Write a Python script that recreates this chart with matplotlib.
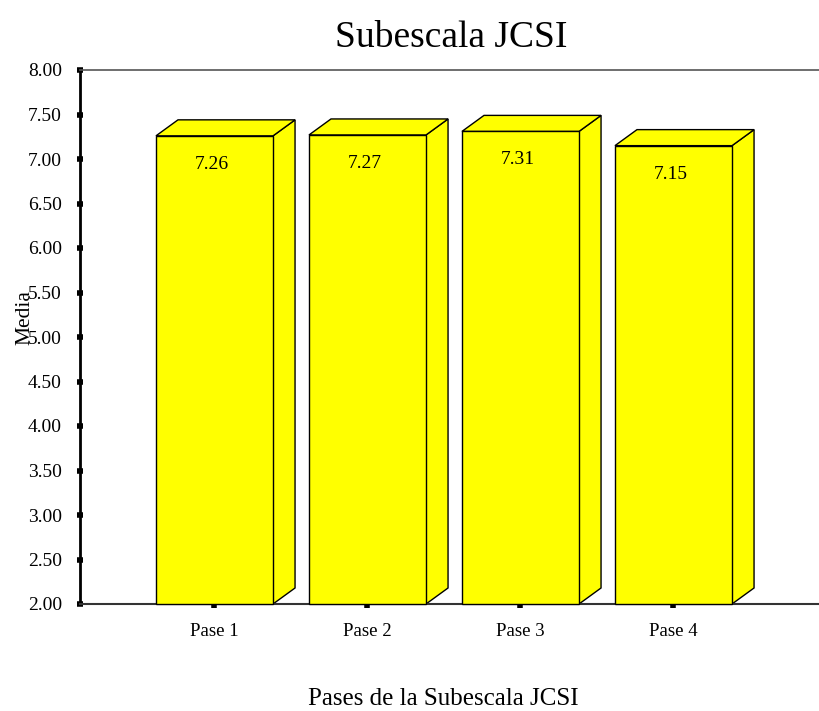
import matplotlib
matplotlib.use("Agg")
import matplotlib.pyplot as plt
from matplotlib.patches import Polygon, Rectangle

plt.rcParams['font.family'] = ['Liberation Serif', 'DejaVu Serif']

categories = ["Pase 1", "Pase 2", "Pase 3", "Pase 4"]
means = [7.26, 7.27, 7.31, 7.15]
value_labels = ["7.26", "7.27", "7.31", "7.15"]
y_ticks = [2.0, 2.5, 3.0, 3.5, 4.0, 4.5, 5.0, 5.5, 6.0, 6.5, 7.0, 7.5, 8.0]

fig = plt.figure(figsize=(8.19, 7.11), dpi=100)
ax = fig.add_axes([80 / 819, 107 / 711, 739 / 819, 534 / 711])

ymin, ymax = 2.0, 8.0
ax.set_xlim(0.121, 4.951)
ax.set_ylim(ymin, ymax)

width = 0.765
dx = 0.144   # depth offset (x, data units)
dy = 0.18    # depth offset (y, data units)
face = "#FFFF00"

for i, v in enumerate(means):
    xc = i + 1
    x0, x1 = xc - width / 2, xc + width / 2
    # side face
    side = Polygon([(x1, ymin), (x1 + dx, ymin + dy), (x1 + dx, v + dy), (x1, v)],
                   closed=True, facecolor=face, edgecolor="black", lw=1.0,
                   zorder=2, clip_on=False)
    # top face
    top = Polygon([(x0, v), (x1, v), (x1 + dx, v + dy), (x0 + dx, v + dy)],
                  closed=True, facecolor=face, edgecolor="black", lw=1.0,
                  zorder=2, clip_on=False)
    front = Rectangle((x0, ymin), width, v - ymin, facecolor=face,
                      edgecolor="black", lw=1.0, zorder=3, clip_on=False)
    ax.add_patch(side)
    ax.add_patch(top)
    ax.add_patch(front)
    ax.text(xc - 0.02, v - 0.32, value_labels[i], ha="center", va="center",
            fontsize=14, color="black", zorder=4)

ax.set_yticks(y_ticks)
ax.set_yticklabels([f"{t:.2f}" for t in y_ticks], fontsize=14)
ax.set_xticks(range(1, len(categories) + 1))
ax.set_xticklabels(categories, fontsize=13.5)

ax.tick_params(axis="y", direction="inout", length=4, width=4, pad=11, color="black")
ax.tick_params(axis="x", direction="out", length=3, width=4, pad=11, color="black")

ax.spines["right"].set_visible(False)
ax.spines["left"].set_linewidth(2.0)
ax.spines["left"].set_color("black")
ax.spines["top"].set_linewidth(1.2)
ax.spines["top"].set_color("#555555")
ax.spines["bottom"].set_linewidth(1.5)
ax.spines["bottom"].set_color("#333333")

fig.text(451 / 819, 1 - 38 / 711, "Subescala JCSI", ha="center", va="center", fontsize=27)
fig.text(443 / 819, 1 - 699 / 711, "Pases de la Subescala JCSI", ha="center",
         va="center", fontsize=18)
fig.text(25 / 819, 1 - 318 / 711, "Media", ha="center", va="center",
         rotation=90, fontsize=15.5)

fig.savefig("out.png", dpi=100, facecolor="white")
